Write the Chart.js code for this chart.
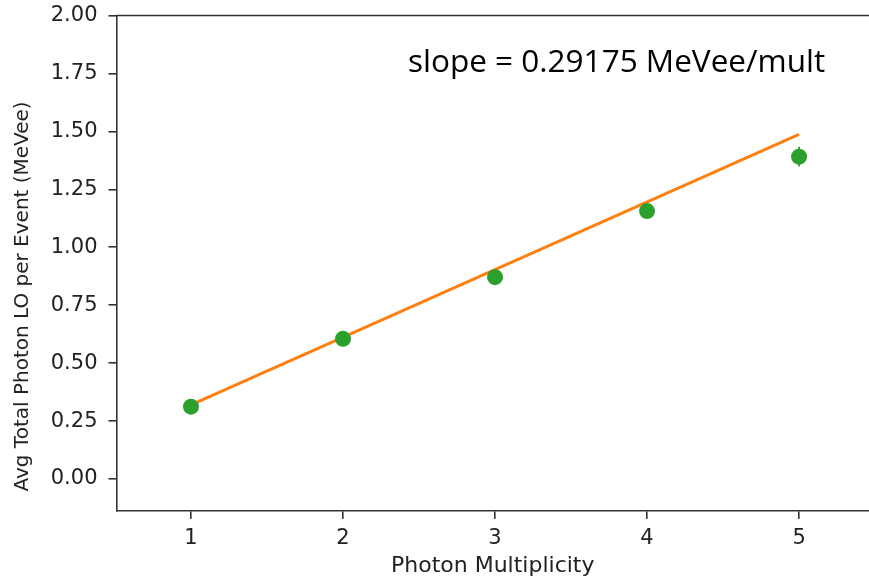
<!DOCTYPE html>
<html><head><meta charset="utf-8">
<script src="https://cdn.jsdelivr.net/npm/chart.js@4/dist/chart.umd.min.js"></script>
<style>html,body{margin:0;padding:0;background:#fff}#wrap{width:869px;height:585px}</style>
</head><body><div id="wrap"><canvas id="c"></canvas></div>
<script>
const multiplicity = [1, 2, 3, 4, 5];
const avgLO = [0.312, 0.605, 0.871, 1.156, 1.391];
const avgLOErr = [0.01, 0.012, 0.015, 0.02, 0.042];
const fitX = [1, 5];
const fitY = [0.320, 1.487];
const xTicks = [1, 2, 3, 4, 5];
const yTicks = [0, 0.25, 0.5, 0.75, 1.0, 1.25, 1.5, 1.75, 2.0];
const xTitle = 'Photon Multiplicity';
const yTitle = 'Avg Total Photon LO per Event (MeVee)';
const annotationText = 'slope = 0.29175 MeVee/mult';
const annotationPos = [3.80, 1.756];

const tickFont = {family: 'DejaVu Sans', size: 21};
const axisColor = '#333';

const frame = {
  id: 'frame',
  afterDatasetsDraw(chart) {
    const ctx = chart.ctx;
    const xs = chart.scales.x, ys = chart.scales.y;
    ctx.save();
    ctx.strokeStyle = '#2ca02c';
    ctx.lineWidth = 2;
    multiplicity.forEach((m, i) => {
      const px = xs.getPixelForValue(m);
      ctx.beginPath();
      ctx.moveTo(px, ys.getPixelForValue(avgLO[i] - avgLOErr[i]));
      ctx.lineTo(px, ys.getPixelForValue(avgLO[i] + avgLOErr[i]));
      ctx.stroke();
    });
    ctx.restore();
  },
  afterDraw(chart) {
    const ctx = chart.ctx, a = chart.chartArea;
    const xs = chart.scales.x, ys = chart.scales.y;
    ctx.save();
    ctx.strokeStyle = axisColor;
    ctx.lineWidth = 1.6;
    ctx.beginPath();
    ctx.moveTo(a.left, a.top);
    ctx.lineTo(chart.width, a.top);
    ctx.moveTo(a.right, a.bottom);
    ctx.lineTo(chart.width, a.bottom);
    ctx.stroke();
    // annotation
    ctx.fillStyle = '#000';
    ctx.font = '31.5px "Open Sans"';
    ctx.textAlign = 'center';
    ctx.textBaseline = 'alphabetic';
    ctx.fillText(annotationText, xs.getPixelForValue(annotationPos[0]), ys.getPixelForValue(annotationPos[1]));
    // y axis title
    ctx.fillStyle = '#222';
    ctx.font = '20px "DejaVu Sans"';
    ctx.textBaseline = 'middle';
    ctx.translate(23, a.top + (a.bottom - a.top) * 0.567);
    ctx.rotate(-Math.PI / 2);
    ctx.fillText(yTitle, 0, 0);
    ctx.restore();
  }
};

new Chart(document.getElementById('c'), {
  type: 'scatter',
  data: {
    datasets: [
      {
        label: 'data', data: multiplicity.map((m, i) => ({x: m, y: avgLO[i]})),
        backgroundColor: '#2ca02c', borderColor: '#2ca02c', pointRadius: 8, pointBorderWidth: 0,
        showLine: false, order: 1
      },
      {
        label: 'fit', data: fitX.map((m, i) => ({x: m, y: fitY[i]})),
        borderColor: '#ff7f0e', borderWidth: 2.8, pointRadius: 0, showLine: true, order: 2
      }
    ]
  },
  options: {
    responsive: true, maintainAspectRatio: false, animation: false,
    layout: {autoPadding: false, padding: {top: 15.5, right: 0, left: 0, bottom: 0}},
    plugins: {legend: {display: false}, tooltip: {enabled: false}},
    scales: {
      x: {
        type: 'linear', min: 0.51, max: 5.46,
        afterBuildTicks: s => { s.ticks = xTicks.map(v => ({value: v})); },
        afterFit: s => { s.height = 74; s.paddingLeft = 0; s.paddingRight = 0; },
        grid: {drawOnChartArea: false, tickLength: 8, color: axisColor, lineWidth: 1.6},
        border: {color: axisColor, width: 1.6},
        ticks: {font: tickFont, color: '#222', padding: 7, maxRotation: 0,
          callback: v => String(v)},
        title: {display: true, text: xTitle, font: {family: 'DejaVu Sans', size: 22}, color: '#222', padding: {top: 0, bottom: 6}}
      },
      y: {
        type: 'linear', min: -0.138, max: 2.0,
        afterBuildTicks: s => { s.ticks = yTicks.map(v => ({value: v})); },
        afterFit: s => { s.width = 116.5; s.paddingTop = 0; s.paddingBottom = 0; },
        grid: {drawOnChartArea: false, tickLength: 8, color: axisColor, lineWidth: 1.6},
        border: {color: axisColor, width: 1.6},
        ticks: {font: tickFont, color: '#222', padding: 11, callback: v => Number(v).toFixed(2)},
        title: {display: false}
      }
    }
  },
  plugins: [frame]
});
</script></body></html>
